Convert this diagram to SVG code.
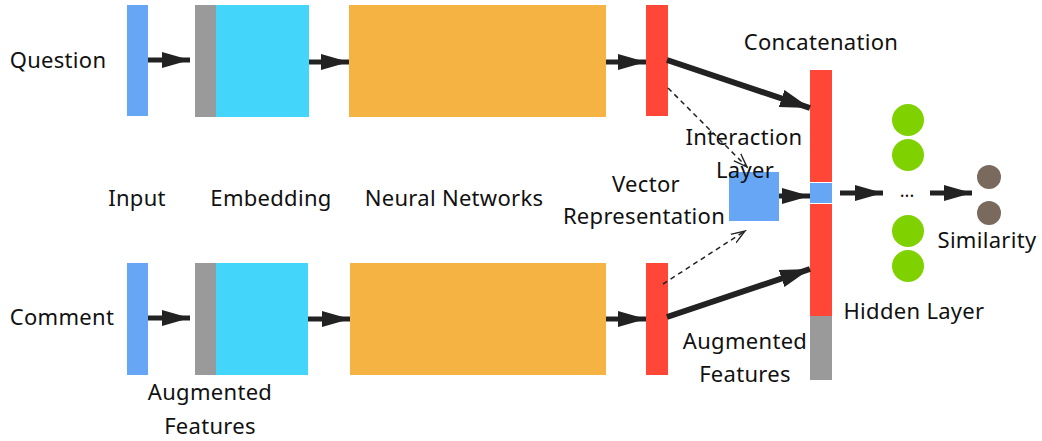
<svg xmlns="http://www.w3.org/2000/svg" width="1042" height="441" viewBox="0 0 1042 441">
<style>
text{font-family:"Noto Sans","Liberation Sans",sans-serif;font-size:22px;fill:#111;text-anchor:middle;letter-spacing:0.3px}
.blue{fill:#66A6F5}.gray{fill:#9A9A9A}.cyan{fill:#44D5FA}.orange{fill:#F4B342}.red{fill:#FF4637}
.green{fill:#80D100}.brown{fill:#7A6A5E}
.a{stroke:#222;stroke-width:5;fill:none;marker-end:url(#ah)}
.t{stroke:#222;stroke-width:6;fill:none;marker-end:url(#ah2)}
.d{stroke:#222;stroke-width:1.5;stroke-dasharray:5,4;fill:none;marker-end:url(#open)}
</style>
<defs>
<marker id="ah" markerUnits="userSpaceOnUse" markerWidth="30" markerHeight="18" refX="28" refY="8" orient="auto"><path d="M0,0 L28,8 L0,16 Z" fill="#222"/></marker>
<marker id="ah2" markerUnits="userSpaceOnUse" markerWidth="32" markerHeight="20" refX="30" refY="9" orient="auto"><path d="M0,0 L30,9 L0,18 Z" fill="#222"/></marker>
<marker id="open" markerUnits="userSpaceOnUse" markerWidth="16" markerHeight="12" refX="14" refY="6" orient="auto"><path d="M0,1 L14,6 L0,11 M4,2.5 L14,6 L4,9.5" fill="none" stroke="#222" stroke-width="1.3"/></marker>
</defs>
<g id="question-input"><rect class="blue" x="127" y="5" width="21" height="111"/></g>
<g id="question-embedding"><rect class="gray" x="195" y="5" width="21" height="112"/><rect class="cyan" x="216" y="5" width="93" height="112"/></g>
<g id="question-nn"><rect class="orange" x="349" y="5" width="257" height="112"/></g>
<g id="question-vector"><rect class="red" x="646" y="5" width="22" height="111"/></g>
<g id="comment-input"><rect class="blue" x="127" y="263" width="21" height="112"/></g>
<g id="comment-embedding"><rect class="gray" x="195" y="263" width="21" height="112"/><rect class="cyan" x="216" y="263" width="92" height="112"/></g>
<g id="comment-nn"><rect class="orange" x="350" y="263" width="256" height="112"/></g>
<g id="comment-vector"><rect class="red" x="646" y="263" width="22" height="112"/></g>
<g id="interaction"><rect class="blue" x="729" y="172" width="50" height="49"/></g>
<g id="concat">
<rect class="red" x="810" y="70" width="22" height="112"/>
<rect class="blue" x="810" y="183" width="22" height="20"/>
<rect class="red" x="810" y="204" width="22" height="112"/>
<rect class="gray" x="810" y="316" width="22" height="64"/>
</g>
<g id="hidden"><circle class="green" cx="908" cy="120" r="16"/><circle class="green" cx="908" cy="155" r="16"/><circle class="green" cx="908" cy="231" r="16"/><circle class="green" cx="908" cy="266" r="16"/>
<text x="907" y="197" style="font-size:18px;letter-spacing:0">...</text></g>
<g id="similarity"><circle class="brown" cx="989" cy="177" r="12"/><circle class="brown" cx="989" cy="213" r="12"/></g>
<g id="connectors">
<line class="a" x1="148" y1="60" x2="190" y2="60"/>
<line class="a" x1="309" y1="62" x2="349" y2="62"/>
<line class="a" x1="606" y1="62" x2="646" y2="62"/>
<line class="a" x1="148" y1="318" x2="190" y2="318"/>
<line class="a" x1="308" y1="319" x2="350" y2="319"/>
<line class="a" x1="606" y1="319" x2="646" y2="319"/>
<line class="t" x1="667" y1="60" x2="810" y2="108"/>
<line class="t" x1="667" y1="317" x2="810" y2="269"/>
<line class="d" x1="668" y1="88" x2="747" y2="167"/>
<line class="d" x1="663" y1="284" x2="745" y2="231"/>
<line class="a" x1="779" y1="196" x2="810" y2="196"/>
<line class="a" x1="840" y1="193" x2="883" y2="193"/>
<line class="a" x1="930" y1="193" x2="972" y2="193"/>
</g>
<g id="labels">
<text x="58" y="68">Question</text>
<text x="62" y="325">Comment</text>
<text x="137" y="206">Input</text>
<text x="271" y="206">Embedding</text>
<text x="454" y="206">Neural Networks</text>
<text x="646" y="192">Vector</text>
<text x="644" y="224">Representation</text>
<text x="821" y="50">Concatenation</text>
<text x="744" y="145">Interaction</text>
<text x="745" y="178">Layer</text>
<text x="210" y="400">Augmented</text>
<text x="210" y="434">Features</text>
<text x="745" y="349">Augmented</text>
<text x="745" y="382">Features</text>
<text x="914" y="319">Hidden Layer</text>
<text x="987" y="248">Similarity</text>
</g>
</svg>
